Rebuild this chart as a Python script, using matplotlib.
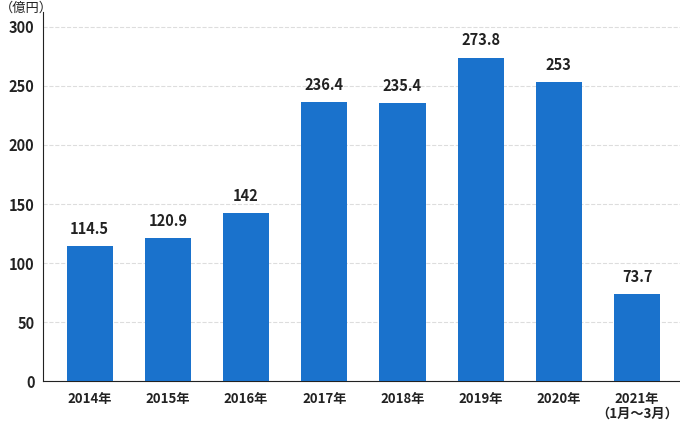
import matplotlib.pyplot as plt

plt.rcParams['font.family'] = ['Noto Sans CJK JP']

years = ["2014年", "2015年", "2016年", "2017年", "2018年", "2019年", "2020年", "2021年\n（1月～3月）"]
sales = [114.5, 120.9, 142, 236.4, 235.4, 273.8, 253, 73.7]
value_labels = ["114.5", "120.9", "142", "236.4", "235.4", "273.8", "253", "73.7"]

fig = plt.figure(figsize=(6.8, 4.24), dpi=100)
ax = fig.add_axes([0.063, 0.101, 0.937, 0.871])

x = range(len(years))
ax.bar(x, sales, width=0.59, color="#1a72cc", zorder=3)
for i, v in enumerate(sales):
    ax.text(i, v + 8, value_labels[i], ha="center", va="bottom", fontsize=10.5,
            fontweight="bold", color="#222222")

ax.set_xlim(-0.6, 7.55)
ax.set_ylim(0, 312.7)
ax.set_yticks(range(0, 301, 50))
ax.set_xticks(list(x))
ax.set_xticklabels(years, fontsize=9.5, fontweight="bold", color="#222222", linespacing=1.0)
ax.tick_params(axis="y", labelsize=10.5, length=0, pad=6, labelcolor="#222222")
ax.tick_params(axis="x", length=0, pad=8)
for t in ax.get_yticklabels():
    t.set_fontweight("bold")
ax.grid(axis="y", linestyle="--", color="#dddddd", linewidth=0.8, zorder=0)
ax.spines["right"].set_visible(False)
ax.spines["top"].set_visible(False)
ax.spines["left"].set_color("#222222")
ax.spines["bottom"].set_color("#222222")

fig.text(0.0, 0.995, "（億円）", fontsize=9.5, va="top", ha="left", color="#222222")

fig.savefig("out.png")
